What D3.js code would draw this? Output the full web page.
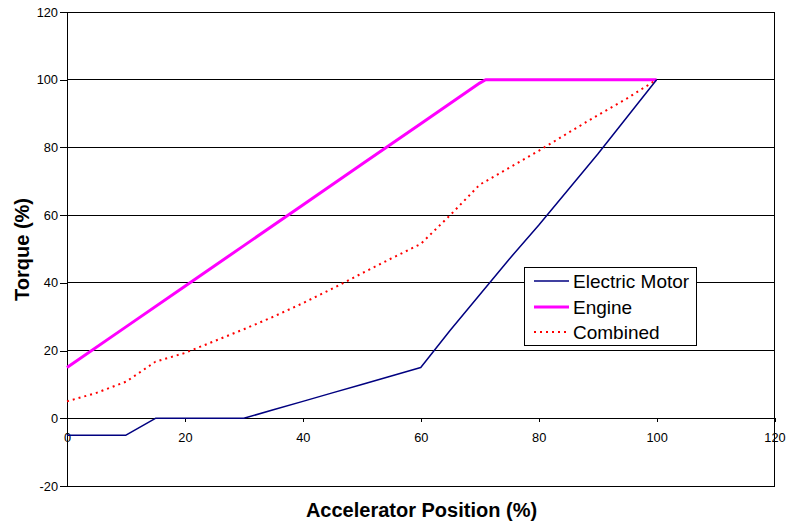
<!DOCTYPE html>
<html>
<head>
<meta charset="utf-8">
<script src="https://cdn.jsdelivr.net/npm/d3@7"></script>
<style>
  html, body { margin: 0; padding: 0; background: #fff; }
  svg { display: block; font-family: "Liberation Sans", Arial, sans-serif; }
</style>
</head>
<body>
<svg id="chart" width="789" height="529"></svg>
<script>
// Accelerator position (%) sample points
const positions = [0, 5, 10, 15, 20, 25, 30, 35, 40, 45, 50, 55, 60, 65, 70, 75, 80, 85, 90, 95, 100];
// Electric motor torque (%)
const motorTorque = [-5, -5, -5, 0, 0, 0, 0, 2.5, 5, 7.5, 10, 12.5, 15, 26, 36.5, 47, 57, 67.5, 78, 89, 100];
// Combined torque (%)
const combinedTorque = [5, 7.5, 10.8, 16.7, 19.3, 22.8, 26.3, 30, 34, 38.3, 42.8, 47.2, 51.5, 60, 69, 74, 79, 84.3, 89.5, 94.5, 100];
// Engine torque (%) with its own sample points
const enginePositions = [0, 10, 20, 30, 40, 50, 60, 70, 71, 80, 90, 100];
const engineTorque = [15, 27, 39, 51, 63, 75, 87, 99, 100, 100, 100, 100];

const xTicks = [0, 20, 40, 60, 80, 100, 120];
const yTicks = [-20, 0, 20, 40, 60, 80, 100, 120];
const seriesNames = ["Electric Motor", "Engine", "Combined"];

(function () {
  const svg = d3.select("#chart");
  const plotLeft = 67, plotRight = 774.5, plotTop = 12, plotBottom = 486;

  const x = d3.scaleLinear().domain([0, 120]).range([plotLeft, plotRight]);
  const y = d3.scaleLinear().domain([-20, 120]).range([plotBottom, plotTop]);
  const plain = d => String(d);

  // horizontal gridlines
  svg.append("g")
    .selectAll("line")
    .data(yTicks)
    .join("line")
    .attr("x1", plotLeft).attr("x2", plotRight)
    .attr("y1", d => y(d)).attr("y2", d => y(d))
    .attr("stroke", "#000").attr("stroke-width", 1)
    .attr("shape-rendering", "crispEdges");

  // plot frame
  svg.append("rect")
    .attr("x", plotLeft).attr("y", plotTop)
    .attr("width", plotRight - plotLeft).attr("height", plotBottom - plotTop)
    .attr("fill", "none").attr("stroke", "#000").attr("stroke-width", 1)
    .attr("shape-rendering", "crispEdges");

  // y axis
  const yAxis = svg.append("g")
    .attr("transform", `translate(${plotLeft},0)`)
    .call(d3.axisLeft(y).tickValues(yTicks).tickFormat(plain)
      .tickSize(7).tickPadding(2).tickSizeOuter(0));
  yAxis.select(".domain").attr("stroke", "#000").attr("shape-rendering", "crispEdges");
  yAxis.selectAll(".tick line").attr("stroke", "#000").attr("shape-rendering", "crispEdges");
  yAxis.selectAll("text").attr("font-size", "12.8px").attr("fill", "#000")
    .attr("font-family", "Liberation Sans, Arial, sans-serif");

  // x axis crossing at zero torque
  const xAxis = svg.append("g")
    .attr("transform", `translate(0,${y(0)})`)
    .call(d3.axisBottom(x).tickValues(xTicks).tickFormat(plain)
      .tickSize(4).tickPadding(10.5).tickSizeOuter(0));
  xAxis.select(".domain").attr("stroke", "#000").attr("shape-rendering", "crispEdges");
  xAxis.selectAll(".tick line").attr("stroke", "#000").attr("shape-rendering", "crispEdges");
  xAxis.selectAll("text").attr("font-size", "12.8px").attr("fill", "#000")
    .attr("font-family", "Liberation Sans, Arial, sans-serif");

  const line = d3.line().x(d => x(d[0])).y(d => y(d[1]));

  const motorData = positions.map((p, i) => [p, motorTorque[i]]);
  const combinedData = positions.map((p, i) => [p, combinedTorque[i]]);
  const engineData = enginePositions.map((p, i) => [p, engineTorque[i]]);

  const styles = [
    { stroke: "#000080", width: 1.5, dash: null },
    { stroke: "#FF00FF", width: 3, dash: null },
    { stroke: "#FF0000", width: 2, dash: "2,4" }
  ];

  const seriesData = [motorData, engineData, combinedData];
  // draw order: engine, combined, motor on top
  [1, 2, 0].forEach(i => {
    svg.append("path")
      .datum(seriesData[i])
      .attr("d", line)
      .attr("fill", "none")
      .attr("stroke", styles[i].stroke)
      .attr("stroke-width", styles[i].width)
      .attr("stroke-dasharray", styles[i].dash)
      .attr("stroke-linejoin", "round");
  });

  // legend
  const lg = svg.append("g");
  lg.append("rect")
    .attr("x", 524.5).attr("y", 267.5).attr("width", 172).attr("height", 77.5)
    .attr("fill", "#fff").attr("stroke", "#000").attr("stroke-width", 1)
    .attr("shape-rendering", "crispEdges");
  const rowsY = [281, 307, 332];
  seriesNames.forEach((name, i) => {
    lg.append("line")
      .attr("x1", 534).attr("x2", 569)
      .attr("y1", rowsY[i]).attr("y2", rowsY[i])
      .attr("stroke", styles[i].stroke)
      .attr("stroke-width", styles[i].width)
      .attr("stroke-dasharray", styles[i].dash);
    lg.append("text")
      .attr("x", 573).attr("y", rowsY[i] + 6.8)
      .attr("font-size", "19px").attr("fill", "#000")
      .text(name);
  });

  // axis titles
  svg.append("text")
    .attr("x", 421.5).attr("y", 516.5)
    .attr("text-anchor", "middle")
    .attr("font-size", "20px").attr("font-weight", "bold")
    .text("Accelerator Position (%)");

  svg.append("text")
    .attr("transform", "translate(28.5,249.5) rotate(-90)")
    .attr("text-anchor", "middle")
    .attr("font-size", "20px").attr("font-weight", "bold")
    .text("Torque (%)");
})();
</script>
</body>
</html>
